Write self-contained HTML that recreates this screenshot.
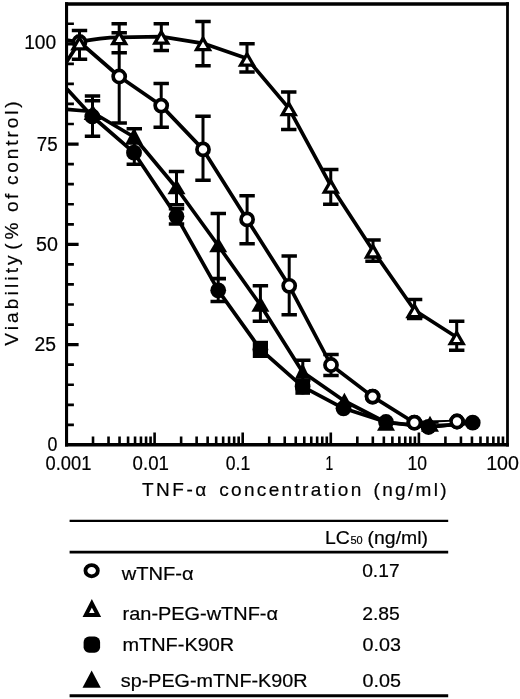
<!DOCTYPE html><html><head><meta charset="utf-8"><title>chart</title>
<style>html,body{margin:0;padding:0;background:#fff}svg{display:block;filter:blur(0.4px)}text{font-family:"Liberation Sans",sans-serif;fill:#000;stroke:#000;stroke-width:0.2px}</style></head><body>
<svg width="520" height="699" viewBox="0 0 520 699">
<rect width="520" height="699" fill="#fff"/>
<path d="M65 4H508.9M65 444.8H508.9" stroke="#000" stroke-width="3.4" fill="none"/>
<path d="M66.55 2.3V446.5" stroke="#000" stroke-width="3.1" fill="none"/>
<path d="M507.5 2.3V446.5" stroke="#000" stroke-width="2.8" fill="none"/>
<path d="M67 424.84H73.9 M67 404.79H73.9 M67 384.73H73.9 M67 364.68H73.9 M67 324.57H73.9 M67 304.51H73.9 M67 284.46H73.9 M67 264.40H73.9 M67 224.29H73.9 M67 204.24H73.9 M67 184.18H73.9 M67 164.13H73.9 M67 124.02H73.9 M67 103.96H73.9 M67 83.91H73.9 M67 63.85H73.9 M67 23.74H73.9" stroke="#000" stroke-width="2.7" fill="none"/>
<path d="M67 344.62H78.6 M67 244.35H78.6 M67 144.07H78.6 M67 43.80H78.6" stroke="#000" stroke-width="3.3" fill="none"/>
<path d="M93.02 444V436.4 M108.53 444V436.4 M119.54 444V436.4 M128.08 444V436.4 M135.06 444V436.4 M140.95 444V436.4 M146.06 444V436.4 M150.57 444V436.4 M154.60 444V432.4 M181.12 444V436.4 M196.63 444V436.4 M207.64 444V436.4 M216.18 444V436.4 M223.16 444V436.4 M229.05 444V436.4 M234.16 444V436.4 M238.67 444V436.4 M242.70 444V432.4 M269.22 444V436.4 M284.73 444V436.4 M295.74 444V436.4 M304.28 444V436.4 M311.26 444V436.4 M317.15 444V436.4 M322.26 444V436.4 M326.77 444V436.4 M330.80 444V432.4 M357.32 444V436.4 M372.83 444V436.4 M383.84 444V436.4 M392.38 444V436.4 M399.36 444V436.4 M405.25 444V436.4 M410.36 444V436.4 M414.87 444V436.4 M418.90 444V432.4 M445.42 444V436.4 M460.93 444V436.4 M471.94 444V436.4 M480.48 444V436.4 M487.46 444V436.4 M493.35 444V436.4 M498.46 444V436.4 M502.97 444V436.4" stroke="#000" stroke-width="2.6" fill="none"/>
<text x="24.2" y="49.3" font-size="19.5" textLength="32.0" lengthAdjust="spacingAndGlyphs">100</text>
<text x="36.7" y="151" font-size="19.5" textLength="20.9" lengthAdjust="spacingAndGlyphs">75</text>
<text x="36.1" y="250.5" font-size="19.5" textLength="21.9" lengthAdjust="spacingAndGlyphs">50</text>
<text x="34.4" y="351.3" font-size="19.5" textLength="21.5" lengthAdjust="spacingAndGlyphs">25</text>
<text x="47.6" y="450.9" font-size="19.5" textLength="9.9" lengthAdjust="spacingAndGlyphs">0</text>
<text x="45.6" y="469.7" font-size="19.5" textLength="45.8" lengthAdjust="spacingAndGlyphs">0.001</text>
<text x="132.6" y="469.7" font-size="19.5" textLength="36.3" lengthAdjust="spacingAndGlyphs">0.01</text>
<text x="225.8" y="469.7" font-size="19.5" textLength="24.4" lengthAdjust="spacingAndGlyphs">0.1</text>
<text x="325.5" y="469.7" font-size="19.5" textLength="7.7" lengthAdjust="spacingAndGlyphs">1</text>
<text x="407.5" y="469.7" font-size="19.5" textLength="19.5" lengthAdjust="spacingAndGlyphs">10</text>
<text x="486.2" y="469.7" font-size="19.5" textLength="32.8" lengthAdjust="spacingAndGlyphs">100</text>
<text x="142.0" y="496.1" font-size="19" textLength="64.2">TNF-α</text>
<text x="219.2" y="496.1" font-size="19" textLength="142.1">concentration</text>
<text x="373.6" y="496.1" font-size="19" textLength="73.0">(ng/ml)</text>
<g transform="translate(17.8,346) rotate(-90)">
<text x="0.2" y="0" font-size="19" textLength="90.4">Viability</text>
<text x="96.3" y="0" font-size="19">(</text>
<text x="106.6" y="0" font-size="19">%</text>
<text x="134.0" y="0" font-size="19" textLength="18.3">of</text>
<text x="161.0" y="0" font-size="19" textLength="83.6">control)</text>
</g>
<polyline points="66.5,40.2 79.5,42 119.2,76.5 161.2,105.6 203,149.4 247.1,219.4 289.2,285.8 331,365 372.6,396.6 414.4,422.7 457,421.5" fill="none" stroke="#000" stroke-width="3.7" stroke-linejoin="round"/>
<polyline points="66.5,62 79.5,41.7 92.8,39.7 100,38.6 110,37.7 119.2,37.3 161.3,36.7 203,43.3 247,58.6 288.75,108.1 330.75,185.7 373,250.6 414.6,310.2 456.7,337.2" fill="none" stroke="#000" stroke-width="3.7" stroke-linejoin="round"/>
<polyline points="67,89 92.3,116.5 134,152.7 176.5,216.3 218.2,290.3 260.4,349.4 302.6,386.6 343.5,408.3 386,422 428.5,427 472.7,422.7" fill="none" stroke="#000" stroke-width="3.7" stroke-linejoin="round"/>
<polyline points="67,109.4 86,111 92.7,112.5 134,137 176.5,188 218.2,245.5 260.4,305 302.6,372 344.4,401 386,422.5 430,426.8 472.7,422.7" fill="none" stroke="#000" stroke-width="3.7" stroke-linejoin="round"/>
<path d="M79.5 30.4V59.2 M119.2 23.8V122.9 M161.3 23.7V50.6 M161.2 83.5V127.3 M203 21.5V65.8 M203 116.3V180.2 M247 43.75V72 M247.1 195.8V243.8 M288.75 92V129.5 M289.2 256V314.7 M330.75 169.5V204.25 M331 354.4V375.6 M373 240V261.25 M414.6 299.6V318.5 M456.7 321.3V350.2 M92.5 96V136.3 M134.3 128.7V164.2 M176.5 171.5V204.8 M176.5 208.7V224 M218.3 213.4V278.8 M218.2 278.5V301.5 M260.4 285.8V321.2 M302.8 360.2V380" stroke="#000" stroke-width="3" fill="none"/>
<path d="M71.8 30.4h15.4 M71.8 59.2h15.4 M111.5 23.8h15.4 M111.5 32.7h15.4 M111.5 52.7h15.4 M111.5 122.9h15.4 M153.60000000000002 23.7h15.4 M153.60000000000002 50.6h15.4 M153.5 83.5h15.4 M153.5 127.3h15.4 M195.3 21.5h15.4 M195.3 65.8h15.4 M195.3 116.3h15.4 M195.3 180.2h15.4 M239.3 43.75h15.4 M239.3 72h15.4 M239.4 195.8h15.4 M239.4 243.8h15.4 M281.05 92h15.4 M281.05 129.5h15.4 M281.5 256h15.4 M281.5 314.7h15.4 M323.05 169.5h15.4 M323.05 204.25h15.4 M323.3 354.4h15.4 M323.3 375.6h15.4 M365.3 240h15.4 M365.3 261.25h15.4 M406.90000000000003 299.6h15.4 M406.90000000000003 318.5h15.4 M449.0 321.3h15.4 M449.0 350.2h15.4 M84.8 96h15.4 M84.8 100.8h15.4 M84.8 136.3h15.4 M126.60000000000001 128.7h15.4 M126.60000000000001 164.2h15.4 M168.8 171.5h15.4 M168.8 204.8h15.4 M168.8 208.7h15.4 M168.8 224h15.4 M210.60000000000002 213.4h15.4 M210.60000000000002 278.8h15.4 M210.5 278.5h15.4 M210.5 301.5h15.4 M252.7 285.8h15.4 M252.7 321.2h15.4 M295.1 360.2h15.4 M295.1 380h15.4" stroke="#000" stroke-width="3.5" fill="none"/>
<circle cx="79.5" cy="42" r="6.05" fill="#fff" stroke="#000" stroke-width="3.7"/>
<circle cx="119.2" cy="76.5" r="6.05" fill="#fff" stroke="#000" stroke-width="3.7"/>
<circle cx="161.2" cy="105.6" r="6.05" fill="#fff" stroke="#000" stroke-width="3.7"/>
<circle cx="203" cy="149.4" r="6.05" fill="#fff" stroke="#000" stroke-width="3.7"/>
<circle cx="247.1" cy="219.4" r="6.05" fill="#fff" stroke="#000" stroke-width="3.7"/>
<circle cx="289.2" cy="285.8" r="6.05" fill="#fff" stroke="#000" stroke-width="3.7"/>
<circle cx="331" cy="365" r="6.05" fill="#fff" stroke="#000" stroke-width="3.7"/>
<circle cx="372.6" cy="396.6" r="6.05" fill="#fff" stroke="#000" stroke-width="3.7"/>
<circle cx="414.4" cy="422.7" r="6.05" fill="#fff" stroke="#000" stroke-width="3.7"/>
<circle cx="457" cy="421.5" r="6.05" fill="#fff" stroke="#000" stroke-width="3.7"/>
<path d="M79.5 37.70L85.95 48.90H73.05Z" fill="#fff" stroke="#000" stroke-width="3.3" stroke-linejoin="miter"/>
<path d="M119.2 32.50L125.65 43.70H112.75Z" fill="#fff" stroke="#000" stroke-width="3.3" stroke-linejoin="miter"/>
<path d="M161.3 31.90L167.75 43.10H154.85000000000002Z" fill="#fff" stroke="#000" stroke-width="3.3" stroke-linejoin="miter"/>
<path d="M203 38.35L209.45 49.55H196.55Z" fill="#fff" stroke="#000" stroke-width="3.3" stroke-linejoin="miter"/>
<path d="M247 53.95L253.45 65.15H240.55Z" fill="#fff" stroke="#000" stroke-width="3.3" stroke-linejoin="miter"/>
<path d="M288.75 103.33L295.2 114.53H282.3Z" fill="#fff" stroke="#000" stroke-width="3.3" stroke-linejoin="miter"/>
<path d="M330.75 180.82L337.2 192.03H324.3Z" fill="#fff" stroke="#000" stroke-width="3.3" stroke-linejoin="miter"/>
<path d="M373 245.82L379.45 257.02H366.55Z" fill="#fff" stroke="#000" stroke-width="3.3" stroke-linejoin="miter"/>
<path d="M414.6 305.45L421.05 316.65H408.15000000000003Z" fill="#fff" stroke="#000" stroke-width="3.3" stroke-linejoin="miter"/>
<path d="M456.7 332.45L463.15 343.65H450.25Z" fill="#fff" stroke="#000" stroke-width="3.3" stroke-linejoin="miter"/>
<circle cx="92.3" cy="116.5" r="7.9" fill="#000"/>
<circle cx="134" cy="152.7" r="7.9" fill="#000"/>
<circle cx="176.5" cy="216.3" r="7.9" fill="#000"/>
<circle cx="218.2" cy="290.3" r="7.9" fill="#000"/>
<circle cx="260.4" cy="349.4" r="7.9" fill="#000"/>
<circle cx="302.6" cy="386.6" r="7.9" fill="#000"/>
<circle cx="343.5" cy="408.3" r="7.9" fill="#000"/>
<circle cx="386" cy="422" r="7.9" fill="#000"/>
<circle cx="428.5" cy="427" r="7.9" fill="#000"/>
<circle cx="472.7" cy="422.7" r="7.9" fill="#000"/>
<rect x="252.8" y="340.8" width="15.2" height="17.2" fill="#000"/>
<rect x="295.4" y="378.5" width="14.6" height="16.3" fill="#000"/>
<path d="M92.7 104.3L101.7 120H83.7Z" fill="#000"/>
<path d="M134 127.4L143 144.8H125Z" fill="#000"/>
<path d="M176.5 179.3L185.5 194.2H167.5Z" fill="#000"/>
<path d="M218.2 237.2L227.2 252.2H209.2Z" fill="#000"/>
<path d="M260.4 296.3L269.4 311.7H251.39999999999998Z" fill="#000"/>
<path d="M302.6 362.8L310.0 378.2H295.20000000000005Z" fill="#000"/>
<path d="M344.4 392.7L352.4 407.2H336.4Z" fill="#000"/>
<path d="M386 415L395 430.7H377Z" fill="#000"/>
<path d="M430 415.8L439 431.7H421Z" fill="#000"/>
<circle cx="372.6" cy="396.6" r="6.05" fill="#fff" stroke="#000" stroke-width="3.7"/>
<circle cx="414.4" cy="422.7" r="6.05" fill="#fff" stroke="#000" stroke-width="3.7"/>
<circle cx="457" cy="421.5" r="6.05" fill="#fff" stroke="#000" stroke-width="3.7"/>
<path d="M438.6 422.9L449.6 422.4" stroke="#fff" stroke-width="1.3"/>
<line x1="69.6" x2="448.2" y1="520.8" y2="520.8" stroke="#000" stroke-width="2.3"/>
<line x1="69.6" x2="448.2" y1="552.2" y2="552.2" stroke="#000" stroke-width="2.7"/>
<line x1="69.6" x2="448.2" y1="695.8" y2="695.8" stroke="#000" stroke-width="3.0"/>
<text x="325" y="543.6" font-size="18.5" textLength="24.8" lengthAdjust="spacingAndGlyphs">LC</text>
<text x="350.4" y="543.6" font-size="10.5" textLength="12.2" lengthAdjust="spacingAndGlyphs">50</text>
<text x="367.6" y="543.6" font-size="18.5" textLength="60.4" lengthAdjust="spacingAndGlyphs">(ng/ml)</text>
<text x="121.7" y="579.6" font-size="18.3" textLength="71.9" lengthAdjust="spacingAndGlyphs">wTNF-α</text>
<text x="122.6" y="620.0" font-size="18.3" textLength="155.4" lengthAdjust="spacingAndGlyphs">ran-PEG-wTNF-α</text>
<text x="122.5" y="650.9" font-size="18.3" textLength="111.7" lengthAdjust="spacingAndGlyphs">mTNF-K90R</text>
<text x="120.8" y="687.3" font-size="18.3" textLength="186.7" lengthAdjust="spacingAndGlyphs">sp-PEG-mTNF-K90R</text>
<text x="362.2" y="577.0" font-size="18.5" textLength="37.4" lengthAdjust="spacingAndGlyphs">0.17</text>
<text x="362.2" y="620.0" font-size="18.5" textLength="37.7" lengthAdjust="spacingAndGlyphs">2.85</text>
<text x="362.6" y="650.8" font-size="18.5" textLength="38.4" lengthAdjust="spacingAndGlyphs">0.03</text>
<text x="362.6" y="687.1" font-size="18.5" textLength="38.4" lengthAdjust="spacingAndGlyphs">0.05</text>
<ellipse cx="91.65" cy="570.7" rx="6.2" ry="5.6" fill="#fff" stroke="#000" stroke-width="3.8"/>
<path d="M91.85 603.3L97.85 614.9H85.85Z" fill="#fff" stroke="#000" stroke-width="4"/>
<rect x="83.6" y="636.6" width="16.5" height="16.1" rx="5.5" ry="5.5" fill="#000"/>
<path d="M91.65 670.5L100.8 687.7H82.5Z" fill="#000"/>
</svg></body></html>
